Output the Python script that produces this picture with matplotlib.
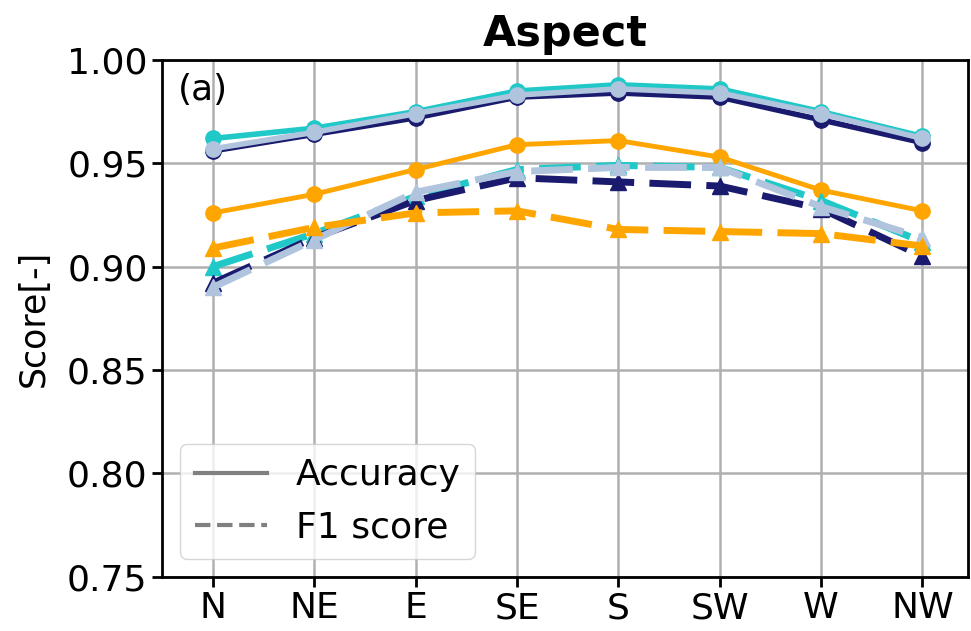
import numpy as np
import matplotlib.pyplot as plt

directions = ["N", "NE", "E", "SE", "S", "SW", "W", "NW"]

# accuracy (solid, circles)
acc_cyan = [0.962, 0.967, 0.975, 0.985, 0.988, 0.986, 0.975, 0.963]
acc_navy = [0.956, 0.964, 0.972, 0.982, 0.984, 0.982, 0.971, 0.960]
acc_lsb = [0.957, 0.965, 0.974, 0.983, 0.986, 0.984, 0.974, 0.962]
acc_orange = [0.926, 0.935, 0.947, 0.959, 0.961, 0.953, 0.937, 0.927]

# F1 score (dashed, triangles)
f1_cyan = [0.900, 0.916, 0.934, 0.947, 0.949, 0.948, 0.932, 0.912]
f1_navy = [0.892, 0.914, 0.932, 0.943, 0.941, 0.939, 0.928, 0.905]
f1_lsb = [0.890, 0.913, 0.936, 0.946, 0.948, 0.948, 0.929, 0.914]
f1_orange = [0.909, 0.919, 0.926, 0.927, 0.918, 0.917, 0.916, 0.910]

x = np.arange(len(directions))

fig = plt.figure(figsize=(9.71, 6.31), dpi=100)
ax = fig.add_axes([0.167, 0.086, 0.83, 0.819])

colors = ["#20c8c8", "#1a1a6e", "#b0c4de", "orange"]
accs = [acc_cyan, acc_navy, acc_lsb, acc_orange]
f1s = [f1_cyan, f1_navy, f1_lsb, f1_orange]
solid_lw = [4, 4, 4, 3.5]

for c, a, lw in zip(colors, accs, solid_lw):
    ax.plot(x, a, color=c, lw=lw, marker="o", markersize=11, zorder=3)
for c, f in zip(colors, f1s):
    ax.plot(x, f, color=c, lw=5, ls=(0, (6, 2.2)), marker="^", markersize=12, zorder=3)

ax.set_xlim(-0.5, 7.45)
ax.set_ylim(0.75, 1.00)
ax.set_xticks(x)
ax.set_xticklabels(directions)
ax.set_yticks([0.75, 0.80, 0.85, 0.90, 0.95, 1.00])
ax.set_yticklabels(["0.75", "0.80", "0.85", "0.90", "0.95", "1.00"])
ax.tick_params(labelsize=26, width=2, length=7)
ax.grid(True, color="#b0b0b0", lw=1.8)
for s in ax.spines.values():
    s.set_linewidth(2)
ax.set_ylabel("Score[-]", fontsize=25, labelpad=12)
ax.set_title("Aspect", fontsize=31, fontweight="bold", pad=10)
ax.text(0.02, 0.975, "(a)", transform=ax.transAxes, fontsize=26, va="top")

h1, = ax.plot([], [], color="gray", lw=3, label="Accuracy")
h2, = ax.plot([], [], color="gray", lw=3, ls="--", label="F1 score")
ax.legend(handles=[h1, h2], loc="lower left", fontsize=26, handlelength=2.0,
          borderaxespad=0.5)

fig.savefig("out.png", dpi=100)
